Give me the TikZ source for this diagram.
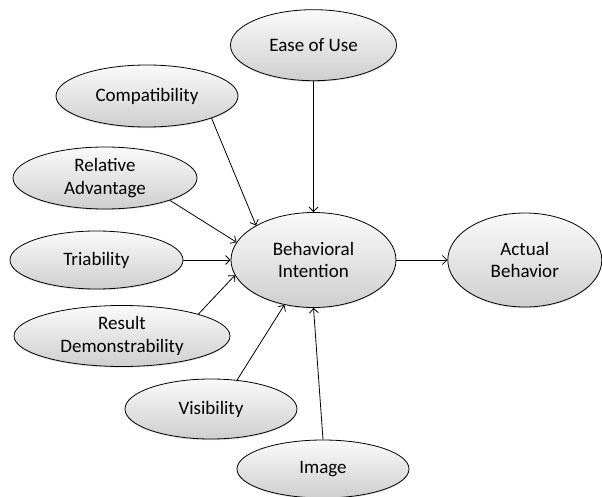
\documentclass[tikz,border=0pt]{standalone}
\usepackage{fontspec}
\setmainfont{Carlito}
\usepackage{tikz}
\usetikzlibrary{positioning,shapes.geometric,shadows,arrows.meta}

\tikzset{
  factor/.style={ellipse, draw, line width=0.8pt, inner sep=0pt, align=center,
    top color=gray!4, bottom color=gray!38,
    drop shadow={opacity=0.25, shadow xshift=0pt, shadow yshift=-1.2pt},
    font=\fontsize{19}{22.5}\selectfont},
  link/.style={->, line width=0.8pt}
}

\begin{document}
\begin{tikzpicture}[>={Straight Barb[length=4.5pt,width=9pt]}, x=1pt, y=-1pt]
        \useasboundingbox (0,0) rectangle (602,497);
        \node[factor, minimum width=165pt, minimum height=95pt] (bi) at (313.5,260) {Behavioral\\Intention};
        \node[factor, minimum width=154pt, minimum height=94pt, right=51pt of bi] (actual) {Actual\\Behavior};
        \node[factor, minimum width=166pt, minimum height=71pt, above=131pt of bi] (ease) {Ease of Use};
        \node[factor, minimum width=182pt, minimum height=62pt] (compat) at (147,96) {Compatibility};
        \node[factor, minimum width=184pt, minimum height=62pt] (reladv) at (105,178) {Relative\\Advantage};
        \node[factor, minimum width=173pt, minimum height=58pt] (triab) at (96.5,260) {Triability};
        \node[factor, minimum width=216pt, minimum height=61pt] (resdem) at (122,336) {Result\\Demonstrability};
        \node[factor, minimum width=172pt, minimum height=60pt] (visib) at (211,409) {Visibility};
        \node[factor, minimum width=172pt, minimum height=58pt] (image) at (323,469) {Image};
        % arrows into the intention
        \draw[link] (ease) -- (bi);
        \draw[link] (compat.-19) -- (bi.149);
        \draw[link] (reladv.-19) -- (bi.167);
        \draw[link] (triab.east) -- (bi.west);
        \draw[link] (resdem.16) -- (bi.-169);
        \draw[link] (visib.48) -- (bi.-123);
        \draw[link] (image.north) -- (bi.south);
        \draw[link] (bi) -- (actual);
    \end{tikzpicture}
\end{document}
